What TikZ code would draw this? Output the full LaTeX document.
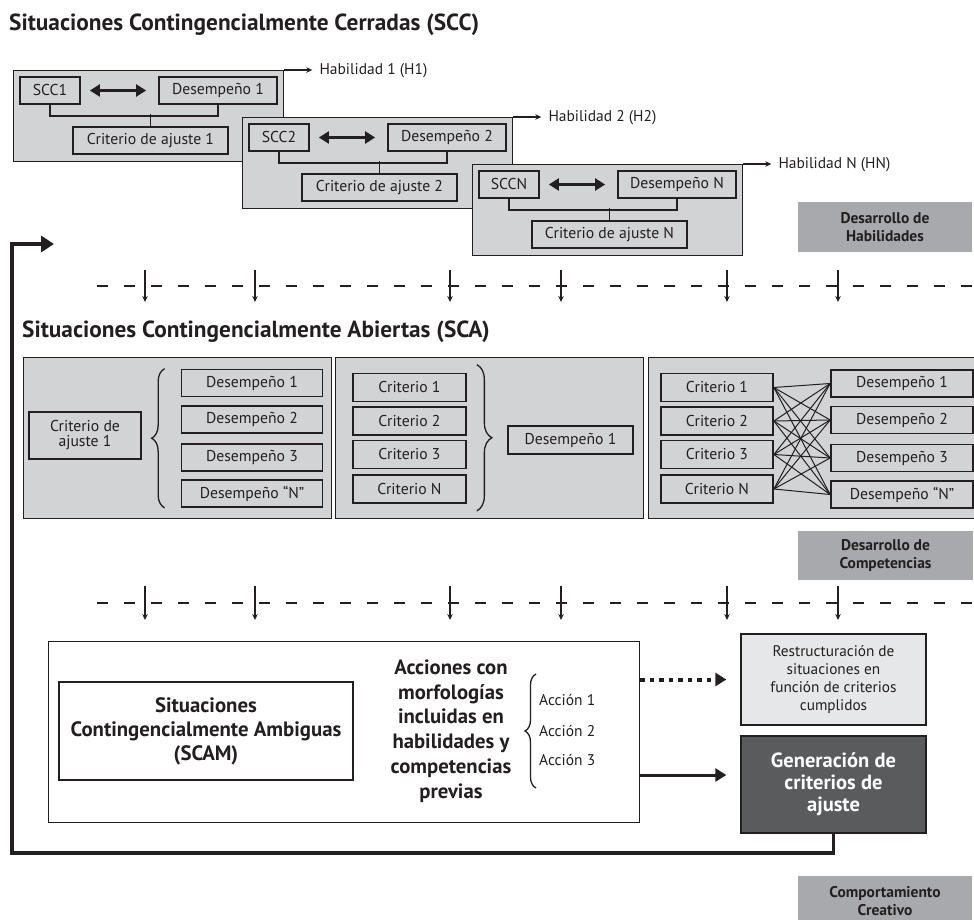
\documentclass[tikz,border=0pt]{standalone}
\usepackage{fontspec}
\setmainfont{PT Sans}
\usetikzlibrary{arrows.meta,decorations.pathreplacing,calc}
\definecolor{panelgray}{HTML}{D2D3D5}
\definecolor{taggray}{HTML}{A7A9AC}
\definecolor{lightgray2}{HTML}{E6E7E8}
\definecolor{darkgray2}{HTML}{5A5B5D}
\definecolor{ink}{HTML}{231F20}
\tikzset{
  panel/.style={draw=ink, line width=1.3pt, fill=panelgray, inner sep=0pt, anchor=north west},
  ibox/.style={draw=ink, line width=1.7pt, fill=panelgray, inner sep=0pt, text=ink, font=\fontsize{15.7}{16}\selectfont},
  titletext/.style={inner sep=0pt, text=ink, font=\bfseries\fontsize{23.3}{26}\selectfont, anchor=west},
  tagbox/.style={fill=taggray, inner sep=0pt, align=center, text=ink, font=\bfseries\fontsize{15.5}{18.5}\selectfont},
  hablabel/.style={inner sep=0pt, anchor=west, text=ink, font=\fontsize{15.5}{16}\selectfont},
  smallarrow/.style={draw=ink, line width=1.1pt, -{Stealth[length=6pt,width=5.5pt]}},
  dblarrow/.style={draw=ink, line width=2.2pt, {Triangle[length=10pt,width=12pt]}-{Triangle[length=10pt,width=12pt]}},
  bracket/.style={draw=ink, line width=1.6pt},
  crossline/.style={draw=ink, line width=1pt},
  dashline/.style={draw=ink, line width=1.4pt, dash pattern=on 11pt off 16pt},
  downarrow/.style={draw=ink, line width=1.1pt, -{Stealth[length=6pt,width=5.5pt]}},
  bracestyle/.style={draw=ink, line width=1.3pt, decorate, decoration={brace, amplitude=#1}},
  bigtext/.style={inner sep=0pt, align=center, text=ink, font=\bfseries\fontsize{20.7}{24.8}\selectfont},
  actlabel/.style={inner sep=0pt, anchor=west, text=ink, font=\fontsize{15.5}{16}\selectfont},
  fbline/.style={draw=ink, line width=3.5pt, -{Triangle[length=13pt,width=16pt]}},
  thickarrow/.style={draw=ink, line width=3pt, -{Triangle[length=11pt,width=13pt]}, shorten >=14pt},
  dotarrow/.style={draw=ink, line width=4pt, dash pattern=on 4.5pt off 5pt, -{Triangle[length=11pt,width=13pt]}, shorten >=14pt}
}
\begin{document}
\begin{tikzpicture}[x=1pt,y=-1pt]
\useasboundingbox (0,0) rectangle (974,920);

% ---------- SCC ----------
\node[titletext] (tscc) at (9,25) {Situaciones Contingencialmente Cerradas (SCC)};

\foreach \i/\x/\y/\s/\d/\c/\h in {1/13/70/SCC1/Desempeño 1/Criterio de ajuste 1/Habilidad 1 (H1),
  2/242/117/SCC2/Desempeño 2/Criterio de ajuste 2/Habilidad 2 (H2),
  N/472/164/SCCN/Desempeño N/Criterio de ajuste N/Habilidad N (HN)}{
  \node[panel, minimum width=270, minimum height=91] (box\i) at (\x,\y) {};
  \node[ibox, minimum width=60, minimum height=27] (s\i) at ($(box\i.north west)+(37,20.5)$) {\s};
  \node[ibox, minimum width=118, minimum height=27] (d\i) at ($(box\i.north west)+(205,20.5)$) {\d};
  \node[ibox, minimum width=155, minimum height=27] (c\i) at ($(box\i.north west)+(137.5,70.5)$) {\c};
  \draw[dblarrow] ([xshift=9pt]s\i.east) -- ([xshift=-12pt]d\i.west);
  \draw[bracket] (s\i.south) -- ++(0,11) -| (d\i.south);
  \draw[bracket] (c\i.north) -- ++(0,-12);
  \node[hablabel] (h\i) at ($(box\i.north east)+(35,1)$) {\h};
  \draw[smallarrow] (box\i.north east) -- ($(h\i.west)+(-7,-1)$);
}

\node[tagbox, minimum width=174, minimum height=50] (tagh) at (885,227) {Desarrollo de\\Habilidades};

% ---------- dashed line 1 ----------
\draw[dashline] (97,286) -- (972,286);
\foreach \x in {145,255,450,561,727,838}{
  \draw[downarrow] (\x,270) -- (\x,302);
}

% ---------- SCA ----------
\node[titletext] (tsca) at (22,332) {Situaciones Contingencialmente Abiertas (SCA)};

% panel 1
\node[panel, minimum width=308, minimum height=161] (p1) at (23,357) {};
\node[ibox, minimum width=112, minimum height=47, align=center, font=\fontsize{15.7}{15}\selectfont] (cda) at (85,435.5) {Criterio de\\ajuste 1};
\foreach \k/\yy/\t in {1/383/Desempeño 1, 2/419.5/Desempeño 2, 3/457.5/Desempeño 3, 4/493.5/Desempeño “N”}{
  \node[ibox, minimum width=141, minimum height=27] (pa\k) at (252,\yy) {\t};
}
\draw[bracestyle=13pt] ([xshift=-16pt]pa4.south west) -- ([xshift=-16pt]pa1.north west);

% panel 2
\node[panel, minimum width=308, minimum height=161] (p2) at (335,357) {};
\foreach \k/\yy/\t in {1/387.5/Criterio 1, 2/421/Criterio 2, 3/454.5/Criterio 3, 4/489/Criterio N}{
  \node[ibox, minimum width=113, minimum height=28] (pb\k) at (409.5,\yy) {\t};
}
\draw[bracestyle=15pt] ([xshift=10pt,yshift=8pt]pb1.north east) -- ([xshift=10pt,yshift=-7pt]pb4.south east);
\node[ibox, minimum width=125, minimum height=28] (pbd) at (570.5,440) {Desempeño 1};

% panel 3
\node[panel, minimum width=345, minimum height=161] (p3) at (648,357) {};
\foreach \k/\yy/\t in {1/387.5/Criterio 1, 2/421/Criterio 2, 3/454.5/Criterio 3, 4/489/Criterio N}{
  \node[ibox, minimum width=112, minimum height=28] (pc\k) at (717,\yy) {\t};
}
\foreach \k/\yy/\t in {1/383.5/Desempeño 1, 2/420/Desempeño 2, 3/458/Desempeño 3, 4/494.5/Desempeño “N”}{
  \node[ibox, minimum width=142, minimum height=27] (pd\k) at (902,\yy) {\t};
}
\foreach \a in {1,2,3,4}{
  \foreach \b in {1,2,3,4}{
    \draw[crossline] (pc\a.east) -- (pd\b.west);
  }
}

\node[tagbox, minimum width=175, minimum height=49] (tagc) at (885.5,555.5) {Desarrollo de\\Competencias};

% ---------- dashed line 2 ----------
\draw[dashline] (97,603) -- (972,603);
\foreach \x in {145,255,450,561,727,838}{
  \draw[downarrow] (\x,586) -- (\x,620);
}

% ---------- bottom ----------
\node[draw=ink, line width=1.3pt, fill=white, inner sep=0pt, minimum width=591, minimum height=181, anchor=north west] (big) at (48,641) {};
\node[draw=ink, line width=1.5pt, fill=white, inner sep=0pt, minimum width=294, minimum height=98, align=center, text=ink, font=\bfseries\fontsize{20.8}{24}\selectfont] (scam) at (206,731) {Situaciones\\Contingencialmente Ambiguas\\(SCAM)};
\node[bigtext] (acc) at (451,731) {Acciones con\\morfologías\\incluidas en\\habilidades y\\competencias\\previas};
\draw[bracestyle=11pt] (536,788) -- (536,674);
\node[actlabel] (a1) at (539,700) {Acción 1};
\node[actlabel] (a2) at (539,731) {Acción 2};
\node[actlabel] (a3) at (539,760) {Acción 3};

\node[draw=ink, line width=1.3pt, fill=lightgray2, inner sep=0pt, minimum width=185, minimum height=91, align=center, text=ink, font=\fontsize{15.3}{18.3}\selectfont] (restr) at (833.5,679.5) {Restructuración de\\situaciones en\\función de criterios\\cumplidos};
\node[draw=ink, line width=1.3pt, fill=darkgray2, inner sep=0pt, minimum width=185, minimum height=97, align=center, text=white, font=\bfseries\fontsize{20.5}{22}\selectfont] (gen) at (833.5,784.5) {Generación de\\criterios de\\ajuste};

\draw[dotarrow] (restr.west -| big.east) -- (restr.west);
\draw[thickarrow] ([yshift=9.5pt]gen.west -| big.east) -- ([yshift=9.5pt]gen.west);

% feedback loop
\coordinate (fbcorner) at (12,853);
\coordinate (fbtop) at (12,244);
\coordinate (fbend) at (54,244);
\draw[fbline] (gen.south) |- (fbcorner) -- (fbtop) -- (fbend);

\node[tagbox, minimum width=174, minimum height=50] (tagcc) at (885,901) {Comportamiento\\Creativo};
\end{tikzpicture}
\end{document}
